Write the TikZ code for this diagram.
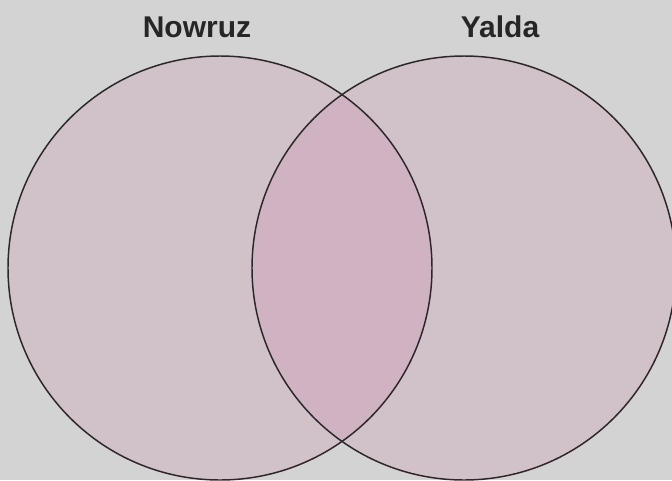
\documentclass[tikz,border=0pt]{standalone}
\usepackage{fontspec}
\usepackage{xcolor}
\usepackage{tikz}
\usetikzlibrary{positioning}
\setmainfont{Liberation Sans}
\definecolor{bggray}{RGB}{211, 211, 211}
\definecolor{vennpink}{RGB}{205, 140, 175}
\definecolor{vennline}{RGB}{45, 38, 42}

\begin{document}
\begin{tikzpicture}[x=0.75pt, y=-0.75pt]
    % 背景
    \fill[bggray] (0, 0) rectangle (672, 480);
    \useasboundingbox (0, 0) rectangle (672, 480);

    % 两个圆
    \begin{scope}
        \clip (0, 0) rectangle (672, 480);
        \foreach \cx in {220, 464} {
            \fill[vennpink, fill opacity=0.25] (\cx, 268) circle[radius=212];
        }
        \foreach \cx in {220, 464} {
            \draw[vennline, line width=1.1pt] (\cx, 268) circle[radius=212];
        }
    \end{scope}

    % 标注
    \node[font=\bfseries\fontsize{22.5}{27}\selectfont, text=black!85] (nowruz) at (197, 27) {Nowruz};
    \node[font=\bfseries\fontsize{22.5}{27}\selectfont, text=black!85] (yalda) at (500, 27) {Yalda};
\end{tikzpicture}
\end{document}
